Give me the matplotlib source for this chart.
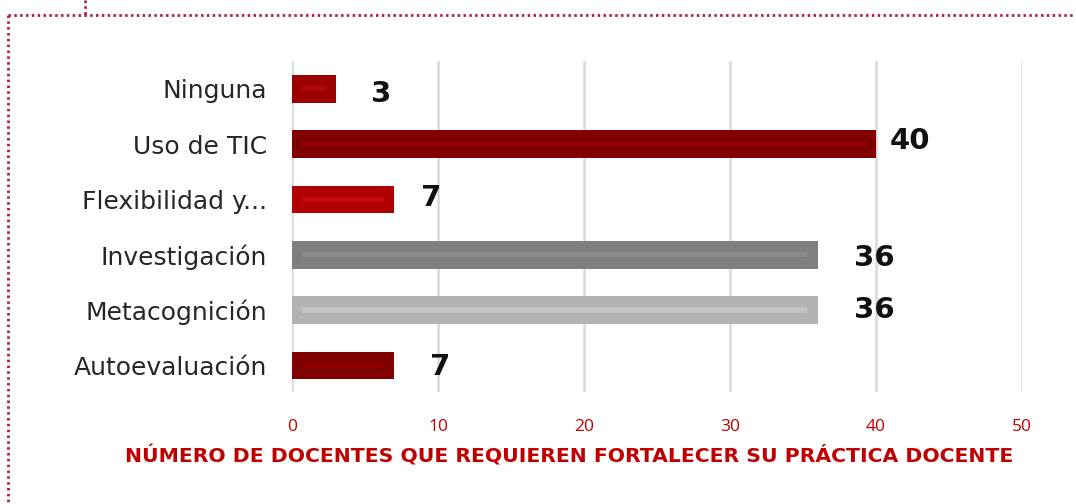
import matplotlib
matplotlib.use("Agg")
import matplotlib.pyplot as plt
from matplotlib.lines import Line2D

categories = ["Ninguna", "Uso de TIC", "Flexibilidad y...", "Investigación", "Metacognición", "Autoevaluación"]
values = [3, 40, 7, 36, 36, 7]
bar_colors = ["#9c0000", "#800000", "#b00000", "#7f7f7f", "#b3b3b3", "#800000"]
stripe_colors = ["#b00808", "#8c0000", "#c20a0a", "#8a8a8a", "#c4c4c4", "#8c0000"]
xticks = [0, 10, 20, 30, 40, 50]
xlabel = "NÚMERO DE DOCENTES QUE REQUIEREN FORTALECER SU PRÁCTICA DOCENTE"

# label offsets (points) as placed in the original
label_dx = [25, 10, 19, 26, 26, 26]
label_dy = [-4, 2, 1, -2, 0, -1]

fig = plt.figure(figsize=(10.76, 5.04), dpi=100)
ax = fig.add_axes([292/1076, 1-392/504, (1022-292)/1076, (392-61)/504])

ypos = list(range(len(categories)))
ax.barh(ypos, values, height=0.5, color=bar_colors, zorder=3)
ax.barh(ypos, [v - 1.4 for v in values], left=0.7, height=0.1, color=stripe_colors, zorder=4)

for y, v, dx, dy in zip(ypos, values, label_dx, label_dy):
    ax.annotate(str(v), xy=(v, y), xytext=(dx, dy), textcoords="offset points",
                ha="left", va="center", fontsize=21, fontweight="bold",
                family="DejaVu Sans", color="#111111")

ax.set_xlim(0, 50)
ax.set_ylim(5.48, -0.5)
ax.set_xticks(xticks)
ax.set_yticks(ypos)
ax.set_yticklabels(categories, fontsize=18, color="#262626", family="DejaVu Sans")
ax.tick_params(axis="y", length=0, pad=18)
ax.tick_params(axis="x", length=0, pad=19.5, labelsize=12.5, labelcolor="#c00000")
for lbl in ax.get_xticklabels():
    lbl.set_family(["Open Sans", "DejaVu Sans"])
ax.grid(axis="x", color="#d9d9d9", linewidth=1.8, zorder=0)
for s in ax.spines.values():
    s.set_visible(False)

ax.set_xlabel(xlabel, fontsize=14.7, fontweight="bold", color="#c00000", family="DejaVu Sans")
ax.xaxis.set_label_coords((569-292)/(1022-292), -(456-392)/(392-61))
ax.xaxis.label.set_va("center")

# dotted frame
dc = "#b0203f"
kw = dict(transform=fig.transFigure, color=dc, linewidth=2.0, linestyle=(0, (0.9, 1.2)), dash_capstyle="butt")
fig.add_artist(Line2D([8/1076, 1.0], [1-15/504, 1-15/504], **kw))
fig.add_artist(Line2D([8/1076, 8/1076], [1-15/504, 0], **kw))
fig.add_artist(Line2D([85/1076, 85/1076], [1.0, 1-15/504], **kw))

fig.savefig("out.png", dpi=100)
